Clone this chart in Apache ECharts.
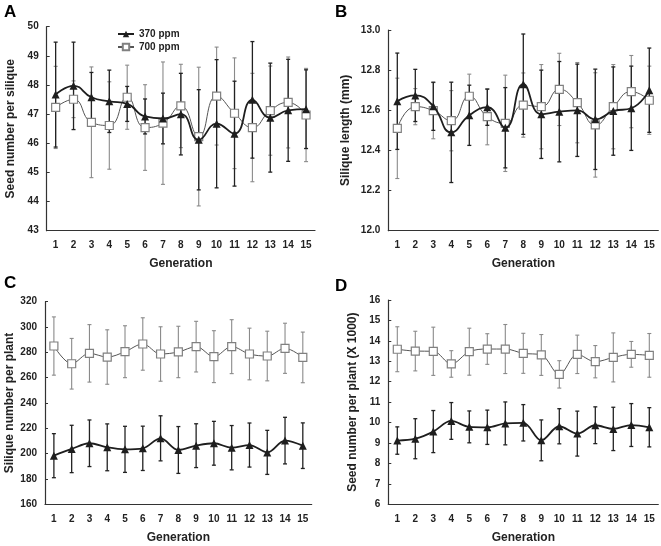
<!DOCTYPE html>
<html><head><meta charset="utf-8">
<script src="https://cdn.jsdelivr.net/npm/echarts@6/dist/echarts.min.js"></script>
<style>html,body{margin:0;padding:0;background:#fff}#c{width:661px;height:546px}</style>
</head><body><div id="c"></div>
<script>
const generations = ['1','2','3','4','5','6','7','8','9','10','11','12','13','14','15'];
const seriesNames = ['370 ppm', '700 ppm'];

// Panel A: Seed number per silique
const A370 = [47.67, 47.97, 47.58, 47.44, 47.35, 46.92, 46.85, 47.0, 46.12, 46.67, 46.33, 47.49, 46.88, 47.13, 47.17];
const A370err = [1.8, 1.5, 0.85, 1.07, 0.6, 0.6, 0.87, 1.4, 1.72, 2.2, 1.8, 2.0, 1.87, 1.75, 1.35];
const A700 = [47.23, 47.51, 46.72, 46.61, 47.58, 46.54, 46.69, 47.28, 46.23, 47.62, 47.03, 46.54, 47.12, 47.4, 46.97];
const A700err = [1.41, 0.63, 1.9, 1.5, 1.1, 1.47, 2.1, 1.43, 2.38, 1.68, 1.9, 1.86, 1.53, 1.56, 1.6];

// Panel B: Silique length (mm)
const B370 = [12.645, 12.674, 12.62, 12.49, 12.575, 12.615, 12.513, 12.73, 12.58, 12.593, 12.60, 12.555, 12.596, 12.61, 12.70];
const B370err = [0.24, 0.13, 0.12, 0.25, 0.15, 0.09, 0.2, 0.25, 0.22, 0.25, 0.23, 0.25, 0.22, 0.21, 0.21];
const B700 = [12.51, 12.618, 12.598, 12.548, 12.67, 12.568, 12.535, 12.626, 12.618, 12.704, 12.638, 12.527, 12.618, 12.693, 12.65];
const B700err = [0.25, 0.09, 0.14, 0.15, 0.11, 0.14, 0.24, 0.16, 0.21, 0.18, 0.2, 0.26, 0.21, 0.18, 0.17];

// Panel C: Silique number per plant
const C370 = [198.4, 203.7, 208.2, 205, 203.4, 204.2, 212.1, 202.9, 206.3, 208.2, 204.7, 206.8, 201, 210.3, 206.3];
const C370err = [17.4, 18.7, 18.4, 18.5, 18.2, 17.5, 17.8, 18.5, 17.3, 17.3, 17.5, 17.4, 17.4, 18.4, 18];
const C700 = [285, 271, 279.2, 276.3, 280.5, 286.6, 278.7, 280.3, 284.5, 276.6, 284.5, 278.7, 277.1, 283.2, 276];
const C700err = [23, 20, 22.7, 21.5, 20.5, 20.7, 21.5, 20.3, 20, 20.5, 21.3, 20.4, 19.6, 19.8, 20];

// Panel D: Seed number per plant (X 1000)
const D370 = [9.12, 9.21, 9.56, 10.08, 9.79, 9.77, 9.96, 9.99, 9.13, 9.82, 9.46, 9.87, 9.69, 9.88, 9.77];
const D370err = [0.67, 0.98, 1.03, 0.9, 0.78, 0.84, 1.05, 0.89, 1.0, 0.86, 1.1, 0.9, 1.06, 1.05, 0.96];
const D700 = [13.59, 13.5, 13.49, 12.87, 13.47, 13.6, 13.6, 13.39, 13.31, 12.36, 13.34, 12.98, 13.19, 13.34, 13.29];
const D700err = [1.1, 0.97, 1.18, 0.65, 1.15, 0.75, 1.2, 0.98, 1.0, 0.67, 0.94, 0.79, 1.2, 0.63, 1.07];

const panels = [
  {label:'A', yName:'Seed number per silique', min:43, max:50, interval:1, dec:0, s370:A370, e370:A370err, s700:A700, e700:A700err,
   grid:{left:46.7, top:26.7, width:268.3, height:204}, nameGap:30, labX:4, labY:4, smooth:0.5},
  {label:'B', yName:'Silique length (mm)', min:12.0, max:13.0, interval:0.2, dec:1, s370:B370, e370:B370err, s700:B700, e700:B700err,
   grid:{left:388.3, top:30, width:270, height:200.7}, nameGap:37, labX:335, labY:4, smooth:0.5},
  {label:'C', yName:'Silique number per plant', min:160, max:320, interval:20, dec:0, s370:C370, e370:C370err, s700:C700, e700:C700err,
   grid:{left:45, top:301.7, width:266.7, height:202.6}, nameGap:29, labX:4, labY:275, smooth:0.35},
  {label:'D', yName:'Seed number per plant (X 1000)', min:6, max:16, interval:1, dec:0, s370:D370, e370:D370err, s700:D700, e700:D700err,
   grid:{left:388.3, top:300, width:270, height:204.3}, nameGap:30, labX:335, labY:278, smooth:0.35}
];

const FONT = '"Liberation Sans", Arial, sans-serif';
const axisColor = '#333';

function errRender(color, lw) {
  return function (params, api) {
    const x = api.value(0), lo = api.value(1), hi = api.value(2);
    const p1 = api.coord([x, hi]), p2 = api.coord([x, lo]);
    const w = 2;
    const st = {stroke: color, lineWidth: lw};
    return {type: 'group', children: [
      {type: 'line', shape: {x1: p1[0], y1: p1[1], x2: p2[0], y2: p2[1]}, style: st},
      {type: 'line', shape: {x1: p1[0]-w, y1: p1[1], x2: p1[0]+w, y2: p1[1]}, style: st},
      {type: 'line', shape: {x1: p2[0]-w, y1: p2[1], x2: p2[0]+w, y2: p2[1]}, style: st}
    ]};
  };
}

const grids = [], xAxes = [], yAxes = [], series = [], graphics = [];
panels.forEach((p, i) => {
  grids.push(p.grid);
  xAxes.push({
    type: 'category', gridIndex: i, data: generations, boundaryGap: true,
    name: 'Generation', nameLocation: 'middle', nameGap: 27,
    nameTextStyle: {fontFamily: FONT, fontWeight: 'bold', fontSize: 12, color: '#222'},
    axisLine: {lineStyle: {color: axisColor, width: 1.2}},
    axisTick: {inside: true, length: 3, alignWithLabel: false, lineStyle: {color: axisColor}},
    axisLabel: {fontFamily: FONT, fontWeight: 'bold', fontSize: 10, color: '#222', margin: 10, interval: 0},
    splitLine: {show: false}
  });
  yAxes.push({
    type: 'value', gridIndex: i, min: p.min, max: p.max, interval: p.interval,
    name: p.yName, nameLocation: 'middle', nameGap: p.nameGap, nameRotate: 90,
    nameTextStyle: {fontFamily: FONT, fontWeight: 'bold', fontSize: 12, color: '#222'},
    axisLine: {show: true, lineStyle: {color: axisColor, width: 1.2}},
    axisTick: {show: true, inside: true, length: 3, lineStyle: {color: axisColor}},
    axisLabel: {fontFamily: FONT, fontWeight: 'bold', fontSize: 10, color: '#222', margin: 8,
      formatter: v => v.toFixed(p.dec)},
    splitLine: {show: false}
  });
  series.push({
    type: 'custom', name: seriesNames[1] + ' err', xAxisIndex: i, yAxisIndex: i, z: 1,
    renderItem: errRender('#8a8a8a', 1.1), encode: {x: 0, y: [1, 2]}, silent: true,
    data: p.s700.map((v, k) => [k, v - p.e700[k], v + p.e700[k]])
  });
  series.push({
    type: 'custom', name: seriesNames[0] + ' err', xAxisIndex: i, yAxisIndex: i, z: 2,
    renderItem: errRender('#222', 1.3), encode: {x: 0, y: [1, 2]}, silent: true,
    data: p.s370.map((v, k) => [k, v - p.e370[k], v + p.e370[k]])
  });
  series.push({
    type: 'line', name: seriesNames[1], xAxisIndex: i, yAxisIndex: i, z: 3,
    data: p.s700, smooth: p.smooth, symbol: 'rect', symbolSize: 8,
    lineStyle: {color: '#555', width: 1},
    itemStyle: {color: '#fff', borderColor: '#808080', borderWidth: 1.2},
    animation: false
  });
  series.push({
    type: 'line', name: seriesNames[0], xAxisIndex: i, yAxisIndex: i, z: 4,
    data: p.s370, smooth: p.smooth, symbol: 'triangle', symbolSize: 8,
    lineStyle: {color: '#1e1e1e', width: 1.8},
    itemStyle: {color: '#1e1e1e', borderColor: '#1e1e1e', borderWidth: 0},
    animation: false
  });
  graphics.push({type: 'text', left: p.labX, top: p.labY,
    style: {text: p.label, font: 'bold 17px ' + FONT, fill: '#000'}});
});

const chart = echarts.init(document.getElementById('c'), null, {renderer: 'canvas'});
chart.setOption({
  animation: false,
  backgroundColor: '#fff',
  grid: grids, xAxis: xAxes, yAxis: yAxes, series: series,
  graphic: graphics,
  legend: {
    data: seriesNames, orient: 'vertical', left: 112, top: 24, itemGap: 3,
    itemWidth: 16, itemHeight: 8,
    textStyle: {fontFamily: FONT, fontWeight: 'bold', fontSize: 10, color: '#222'},
    selectedMode: false
  }
});
</script></body></html>
